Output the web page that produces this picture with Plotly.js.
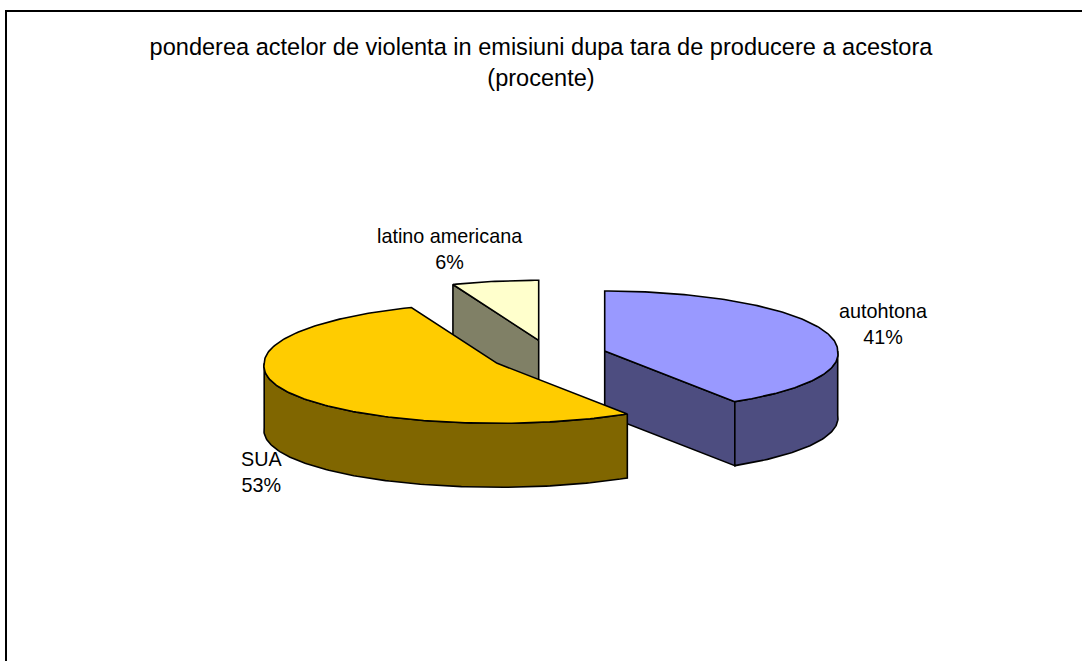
<!DOCTYPE html>
<html>
<head>
<meta charset="utf-8">
<script src="https://cdn.plot.ly/plotly-3.0.1.min.js"></script>
<style>html,body{margin:0;padding:0;background:#fff}#chart{width:1082px;height:661px}</style>
</head>
<body>
<div id="chart"></div>
<script>
// ---- data ----
const titleLines = ['ponderea actelor de violenta in emisiuni dupa tara de producere a acestora', '(procente)'];
const categories = ['autohtona', 'SUA', 'latino americana'];
const values = [41, 53, 6];

// ---- styles and geometry (separate from the data) ----
const topColors = ['#9999FF', '#FFCC00', '#FFFFCC'];
const sideColors = ['#4D4D80', '#806600', '#808066'];
const centers = [[604.7, 351], [497.2, 363.3], [538.7, 340.3]];
const labelAt = [[883, 324], [261, 472], [449, 249]];
const drawOrder = [2, 0, 1];
const RX = 233, RY = 60, DEPTH = 64, FRONT = 0.05;
const FONT = 'Liberation Sans, Arial, sans-serif';

function pt(c, deg, drop) {
  const a = deg * Math.PI / 180, s = Math.sin(a), k = Math.cos(a);
  return [c[0] + RX * s * (1 + FRONT * Math.max(0, -k)), c[1] - RY * k + drop];
}
function arc(c, a0, a1, drop) {
  const out = [], n = Math.max(2, Math.ceil(Math.abs(a1 - a0)));
  for (let i = 0; i <= n; i++) out.push(pt(c, a0 + (a1 - a0) * i / n, drop));
  return out;
}
function poly(points, fill) {
  const closed = points.concat([points[0]]);
  return {
    x: closed.map(p => p[0]), y: closed.map(p => p[1]),
    type: 'scatter', mode: 'lines', fill: 'toself', fillcolor: fill,
    line: {color: '#000', width: 1.6}, hoverinfo: 'skip', showlegend: false
  };
}

const total = values.reduce((s, v) => s + v, 0);
const starts = [];
values.reduce((acc, v, i) => { starts[i] = acc; return acc + v / total * 360; }, 0);

const traces = [];
drawOrder.forEach(i => {
  const c = centers[i], a0 = starts[i], a1 = a0 + values[i] / total * 360;
  const apex = [c[0], c[1]], apexLow = [c[0], c[1] + DEPTH];
  const side = sideColors[i];
  // cut faces turned toward the viewer
  if (Math.sin(a0 * Math.PI / 180) < -1e-6)
    traces.push(poly([apex, pt(c, a0, 0), pt(c, a0, DEPTH), apexLow], side));
  if (Math.sin(a1 * Math.PI / 180) > 1e-6)
    traces.push(poly([apex, pt(c, a1, 0), pt(c, a1, DEPTH), apexLow], side));
  // outer wall: only the front half of the rim shows
  const w0 = Math.max(a0, 90), w1 = Math.min(a1, 270);
  if (w1 > w0)
    traces.push(poly(arc(c, w0, w1, 0).concat(arc(c, w1, w0, DEPTH)), side));
  // top surface
  traces.push(poly([apex].concat(arc(c, a0, a1, 0)), topColors[i]));
});

const textStyle = {family: FONT, size: 19.8, color: '#000'};
const annotations = categories.map((name, i) => ({
  text: name + '<br>' + values[i] + '%',
  x: labelAt[i][0], y: labelAt[i][1], xref: 'x', yref: 'y',
  showarrow: false, xanchor: 'center', yanchor: 'middle', align: 'center', font: textStyle
}));
const titleFont = {family: FONT, size: 23.55, color: '#000'};

const layout = {
  width: 1082, height: 661,
  margin: {l: 0, r: 0, t: 0, b: 0},
  paper_bgcolor: '#fff', plot_bgcolor: '#fff',
  title: {text: titleLines.join('<br>'), font: titleFont, x: 0.5, xanchor: 'center', xref: 'paper', y: 1 - 55 / 661, yanchor: 'middle', yref: 'container'},
  xaxis: {range: [0, 1082], visible: false, fixedrange: true},
  yaxis: {range: [661, 0], visible: false, fixedrange: true},
  shapes: [
    {type: 'line', xref: 'x', yref: 'y', x0: 6, x1: 1082, y0: 11, y1: 11, line: {color: '#000', width: 2}},
    {type: 'line', xref: 'x', yref: 'y', x0: 6, x1: 6, y0: 10, y1: 661, line: {color: '#000', width: 2}}
  ],
  annotations
};
Plotly.newPlot('chart', traces, layout, {displayModeBar: false, staticPlot: true});
</script>
</body>
</html>
